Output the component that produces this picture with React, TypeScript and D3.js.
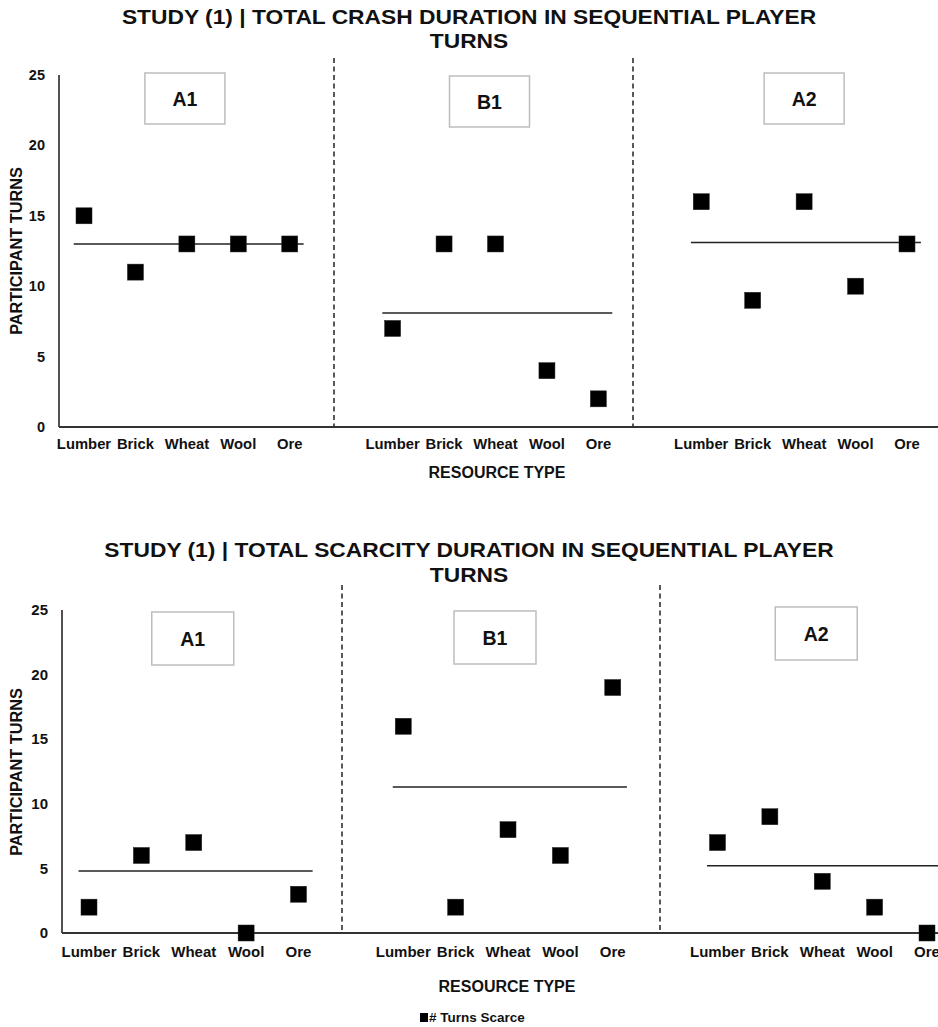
import React from "react";
import * as d3 from "d3";

// ---- data ----
const categories = ["Lumber", "Brick", "Wheat", "Wool", "Ore"];
const groups = ["A1", "B1", "A2"];
const yTicks = [0, 5, 10, 15, 20, 25];

const crashA1 = [15, 11, 13, 13, 13];
const crashB1 = [7, 13, 13, 4, 2];
const crashA2 = [16, 9, 16, 10, 13];
const crashRefLines = [13, 8.1, 13.1];

const scarcityA1 = [2, 6, 7, 0, 3];
const scarcityB1 = [16, 2, 8, 6, 19];
const scarcityA2 = [7, 9, 4, 2, 0];
const scarcityRefLines = [4.8, 11.3, 5.2];

const crashTitle = ["STUDY (1) | TOTAL CRASH DURATION IN SEQUENTIAL PLAYER", "TURNS"];
const scarcityTitle = ["STUDY (1) | TOTAL SCARCITY DURATION IN SEQUENTIAL PLAYER", "TURNS"];
const xAxisTitle = "RESOURCE TYPE";
const yAxisTitle = "PARTICIPANT TURNS";
const legendLabel = "# Turns Scarce";

// ---- layout ----
const W = 938;
const H = 1027;
const FONT = "'Liberation Sans', Arial, Helvetica, sans-serif";

type Layout = {
  title: string[];
  titleY: number[];
  series: number[][];
  refs: number[];
  yBottom: number;
  yTop: number;
  xFirst: number;
  xLast: number;
  axisX: number;
  divTop: number;
  dividers: number[];
  boxTop: number[];
  boxDx: number[];
  boxW: number;
  boxH: number;
  catLabelY: number;
  axisTitleY: number;
  axisTitleX: number;
  yLabelCy: number;
  tickFont: number;
  catFont: number;
};

const topLayout: Layout = {
  title: crashTitle,
  titleY: [24, 48],
  series: [crashA1, crashB1, crashA2],
  refs: crashRefLines,
  yBottom: 427,
  yTop: 75,
  xFirst: 84,
  xLast: 907,
  axisX: 59,
  divTop: 58,
  dividers: [334, 633],
  boxTop: [73, 76, 73],
  boxDx: [-2, -6, 0],
  boxW: 80,
  boxH: 51,
  catLabelY: 449,
  axisTitleY: 478,
  axisTitleX: 497,
  yLabelCy: 251,
  tickFont: 14.5,
  catFont: 14.8,
};

const bottomLayout: Layout = {
  title: scarcityTitle,
  titleY: [557, 582],
  series: [scarcityA1, scarcityB1, scarcityA2],
  refs: scarcityRefLines,
  yBottom: 933,
  yTop: 610,
  xFirst: 89,
  xLast: 927,
  axisX: 62,
  divTop: 585,
  dividers: [342, 660],
  boxTop: [612, 611, 607],
  boxDx: [-1, -13, -6],
  boxW: 82,
  boxH: 53,
  catLabelY: 957,
  axisTitleY: 992,
  axisTitleX: 507,
  yLabelCy: 772,
  tickFont: 15,
  catFont: 15,
};

const MARK = 16;

function Panel({ L }: { L: Layout }) {
  const y = d3.scaleLinear().domain([0, 25]).range([L.yBottom, L.yTop]);
  const x = d3
    .scaleLinear()
    .domain([1, groups.length * (categories.length + 1) - 1])
    .range([L.xFirst, L.xLast]);
  const pos = (g: number, c: number) => g * (categories.length + 1) + c + 1;

  return (
    <g>
      {/* title */}
      {L.title.map((t, i) => (
        <text
          key={i}
          transform={`translate(469,${L.titleY[i]}) scale(1,0.86)`}
          textAnchor="middle"
          fontFamily={FONT}
          fontWeight="bold"
          fontSize={22.8}
          fill="#111"
        >
          {t}
        </text>
      ))}

      {/* dividers */}
      {L.dividers.map((dx, i) => (
        <line
          key={i}
          x1={dx}
          x2={dx}
          y1={L.divTop}
          y2={L.yBottom}
          stroke="#222"
          strokeWidth={1.5}
          strokeDasharray="5 3.5"
        />
      ))}

      {/* axes */}
      <line x1={L.axisX} x2={L.axisX} y1={L.yTop} y2={L.yBottom} stroke="#333" strokeWidth={1.7} />
      <line x1={L.axisX} x2={W} y1={L.yBottom} y2={L.yBottom} stroke="#333" strokeWidth={2.2} />

      {/* y ticks */}
      {yTicks.map((t) => (
        <text
          key={t}
          x={L.axisX - 14}
          y={y(t)}
          dy="0.35em"
          textAnchor="end"
          fontFamily={FONT}
          fontWeight="bold"
          fontSize={L.tickFont}
          fill="#111"
        >
          {t}
        </text>
      ))}

      {/* y axis title */}
      <text
        transform={`translate(16.5,${L.yLabelCy}) rotate(-90)`}
        textAnchor="middle"
        dy="0.35em"
        fontFamily={FONT}
        fontWeight="bold"
        fontSize={16.3}
        fill="#111"
      >
        {yAxisTitle}
      </text>

      {/* category labels */}
      {groups.map((g, gi) =>
        categories.map((c, ci) => (
          <text
            key={g + c}
            x={x(pos(gi, ci))}
            y={L.catLabelY}
            textAnchor="middle"
            fontFamily={FONT}
            fontWeight="bold"
            fontSize={L.catFont}
            fill="#111"
          >
            {c}
          </text>
        ))
      )}

      {/* x axis title */}
      <text
        x={L.axisTitleX}
        y={L.axisTitleY}
        textAnchor="middle"
        fontFamily={FONT}
        fontWeight="bold"
        fontSize={16}
        fill="#111"
      >
        {xAxisTitle}
      </text>

      {/* group boxes */}
      {groups.map((g, gi) => {
        const cx = x(pos(gi, 2)) + L.boxDx[gi];
        return (
          <g key={g}>
            <rect
              x={cx - L.boxW / 2}
              y={L.boxTop[gi]}
              width={L.boxW}
              height={L.boxH}
              fill="#fff"
              stroke="#bdbdbd"
              strokeWidth={1.5}
            />
            <text
              x={cx}
              y={L.boxTop[gi] + L.boxH / 2}
              dy="0.36em"
              textAnchor="middle"
              fontFamily={FONT}
              fontWeight="bold"
              fontSize={19.5}
              fill="#111"
            >
              {g}
            </text>
          </g>
        );
      })}

      {/* reference lines */}
      {groups.map((g, gi) => (
        <line
          key={g}
          x1={x(pos(gi, 0) - 0.2)}
          x2={x(pos(gi, categories.length - 1) + 0.27)}
          y1={y(L.refs[gi])}
          y2={y(L.refs[gi])}
          stroke="#222"
          strokeWidth={1.6}
        />
      ))}

      {/* markers */}
      {L.series.map((vals, gi) =>
        vals.map((v, ci) => (
          <rect
            key={gi + "-" + ci}
            x={x(pos(gi, ci)) - MARK / 2}
            y={y(v) - MARK / 2}
            width={MARK}
            height={MARK}
            fill="#000"
            stroke="#222"
            strokeWidth={0.5}
          />
        ))
      )}
    </g>
  );
}

export default function App() {
  return (
    <svg
      width={W}
      height={H}
      viewBox={`0 0 ${W} ${H}`}
      style={{ position: "absolute", left: 0, top: 0, background: "#fff" }}
    >
      <rect x={0} y={0} width={W} height={H} fill="#fff" />
      <Panel L={topLayout} />
      <Panel L={bottomLayout} />
      {/* legend */}
      <rect x={420} y={1013} width={8} height={9} fill="#000" />
      <text x={429} y={1021.5} fontFamily={FONT} fontWeight="bold" fontSize={13.5} fill="#111">
        {legendLabel}
      </text>
    </svg>
  );
}
